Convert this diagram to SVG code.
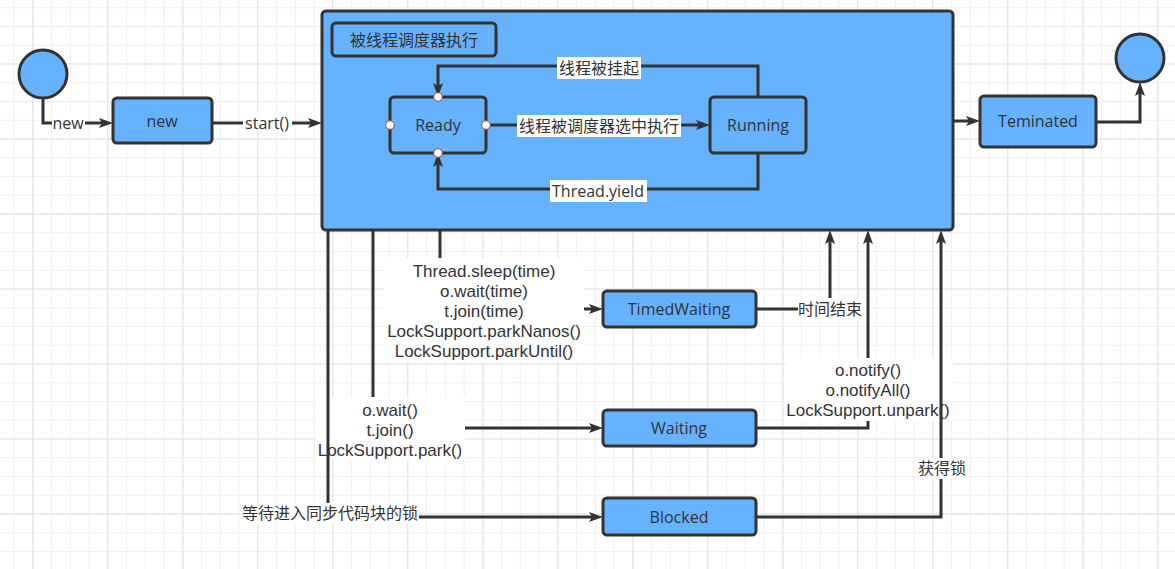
<svg xmlns="http://www.w3.org/2000/svg" width="1175" height="569" viewBox="0 0 1175 569">
<defs>
<pattern id="minor" patternUnits="userSpaceOnUse" x="13.55" y="7.25" width="18.75" height="18.75">
<path d="M0.5,0 V18.75 M0,0.5 H18.75" fill="none" stroke="#efefef" stroke-width="1"/>
</pattern>
<pattern id="major" patternUnits="userSpaceOnUse" x="32.3" y="63.5" width="75" height="75">
<path d="M0.5,0 V75 M0,0.5 H75" fill="none" stroke="#e2e2e2" stroke-width="1"/>
</pattern>
<marker id="arr" markerUnits="userSpaceOnUse" markerWidth="16" markerHeight="12" refX="3" refY="5" orient="auto" overflow="visible">
<path d="M0,0 L14,5 L0,10 L3,5 Z" fill="#333"/>
</marker>
</defs>
<style>
.node{fill:#66b2ff;stroke:#333;stroke-width:3}
.t{font-family:"Open Sans","Noto Sans CJK SC",sans-serif;font-size:16px;fill:#333;text-anchor:middle}
.l{font-family:"Liberation Sans","Noto Sans CJK SC",sans-serif;font-size:17px}
.e{fill:none;stroke:#333;stroke-width:3}
.a{marker-end:url(#arr)}
.bg{fill:#fff}
.pt{fill:#fff;stroke:#b04040;stroke-width:1}
</style>
<rect width="1175" height="569" fill="#fff"/>
<rect width="1175" height="569" fill="url(#minor)"/>
<rect width="1175" height="569" fill="url(#major)"/>

<g id="start">
<circle cx="43" cy="74" r="24" class="node"/>
</g>
<g id="container">
<rect x="322" y="11" width="631" height="219" rx="4" class="node"/>
</g>
<g id="scheduler-label">
<rect x="332" y="23" width="164" height="33" rx="4" class="node"/>
<text x="414" y="46" class="t">被线程调度器执行</text>
</g>

<g id="connectors">
<path d="M43,98 V123 H102" class="e a"/>
<rect x="52" y="113" width="33" height="20" class="bg"/>
<text x="68" y="129" class="t">new</text>

<path d="M212,123 H311" class="e a"/>
<rect x="243" y="113" width="49" height="20" class="bg"/>
<text x="267" y="129" class="t">start()</text>

<path d="M486,125 H699" class="e a"/>
<rect x="517" y="115" width="164" height="22" class="bg"/>
<text x="599" y="132" class="t">线程被调度器选中执行</text>

<path d="M758,97 V66 H438 V86" class="e a"/>
<rect x="557" y="57" width="84" height="22" class="bg"/>
<text x="599" y="74" class="t">线程被挂起</text>

<path d="M758,153 V189 H438 V164" class="e a"/>
<rect x="550" y="180" width="97" height="22" class="bg"/>
<text x="598" y="197" class="t">Thread.yield</text>

<path d="M953,121 H969" class="e a"/>

<path d="M1096,122 H1140 V93" class="e a"/>

<path d="M440,230 V309 H592" class="e a"/>
<rect x="384" y="258" width="200" height="104" class="bg"/>
<text class="t l"><tspan x="484" y="277">Thread.sleep(time)</tspan><tspan x="484" y="297">o.wait(time)</tspan><tspan x="484" y="317">t.join(time)</tspan><tspan x="484" y="337">LockSupport.parkNanos()</tspan><tspan x="484" y="357">LockSupport.parkUntil()</tspan></text>

<path d="M373,230 V428 H592" class="e a"/>
<rect x="316" y="397" width="149" height="63" class="bg"/>
<text class="t l"><tspan x="390" y="416">o.wait()</tspan><tspan x="390" y="436">t.join()</tspan><tspan x="390" y="456">LockSupport.park()</tspan></text>

<path d="M328,230 V517 H592" class="e a"/>
<rect x="240" y="503" width="179" height="21" class="bg"/>
<text x="330" y="519" class="t">等待进入同步代码块的锁</text>

<path d="M756,309 H830 V241" class="e a"/>
<rect x="798" y="298" width="65" height="22" class="bg"/>
<text x="830" y="315" class="t">时间结束</text>

<path d="M756,428 H868 V241" class="e a"/>
<rect x="785" y="358" width="168" height="63" class="bg"/>
<text class="t l"><tspan x="868" y="376">o.notify()</tspan><tspan x="868" y="396">o.notifyAll()</tspan><tspan x="868" y="416">LockSupport.unpark()</tspan></text>

<path d="M756,517 H941 V241" class="e a"/>
<rect x="918" y="458" width="49" height="21" class="bg"/>
<text x="942" y="474" class="t">获得锁</text>
</g>

<g id="new">
<rect x="113" y="98" width="99" height="45" rx="4" class="node"/>
<text x="162" y="127" class="t">new</text>
</g>
<g id="ready">
<rect x="390" y="97" width="96" height="56" rx="4" class="node"/>
<text x="438" y="131" class="t">Ready</text>
<circle cx="390" cy="125" r="4.3" class="pt"/>
<circle cx="486" cy="125" r="4.3" class="pt"/>
<circle cx="438" cy="97" r="4.3" class="pt"/>
<circle cx="438" cy="153" r="4.3" class="pt"/>
</g>
<g id="running">
<rect x="710" y="97" width="96" height="56" rx="4" class="node"/>
<text x="758" y="131" class="t">Running</text>
</g>
<g id="teminated">
<rect x="980" y="96" width="116" height="51" rx="4" class="node"/>
<text x="1038" y="127" class="t">Teminated</text>
</g>
<g id="end">
<circle cx="1140" cy="58" r="24" class="node"/>
</g>
<g id="timedwaiting">
<rect x="603" y="291" width="153" height="36" rx="4" class="node"/>
<text x="679" y="315" class="t">TimedWaiting</text>
</g>
<g id="waiting">
<rect x="603" y="410" width="153" height="36" rx="4" class="node"/>
<text x="679" y="434" class="t">Waiting</text>
</g>
<g id="blocked">
<rect x="603" y="498" width="153" height="37" rx="4" class="node"/>
<text x="679" y="523" class="t">Blocked</text>
</g>
</svg>
